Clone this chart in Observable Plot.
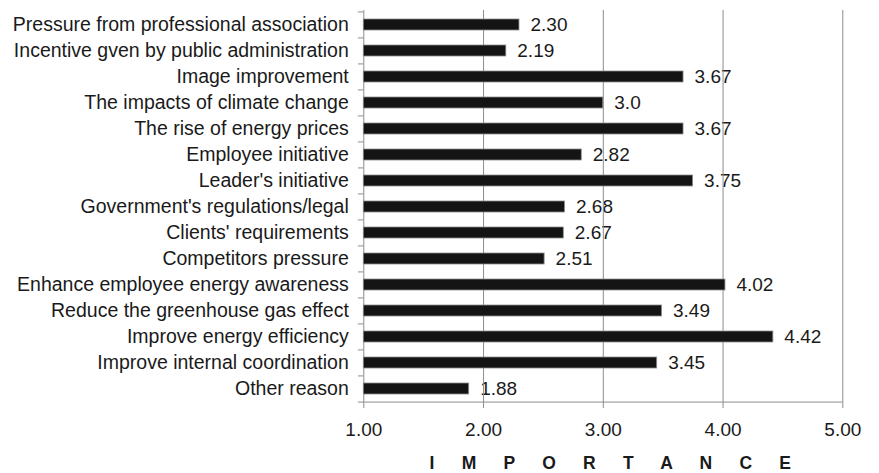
<!DOCTYPE html>
<html>
<head>
<meta charset="utf-8">
<script src="https://cdn.jsdelivr.net/npm/d3@7"></script>
<script src="https://cdn.jsdelivr.net/npm/@observablehq/plot@0.6"></script>
<style>
  html, body { margin: 0; padding: 0; background: #fff; }
  #chart svg { display: block; }
</style>
</head>
<body>
<div id="chart"></div>
<script>
// Reasons for energy-saving action, top to bottom
const reasons = [
  "Pressure from professional association",
  "Incentive gven by public administration",
  "Image improvement",
  "The impacts of climate change",
  "The rise of energy prices",
  "Employee initiative",
  "Leader's initiative",
  "Government's regulations/legal",
  "Clients' requirements",
  "Competitors pressure",
  "Enhance employee energy awareness",
  "Reduce the greenhouse gas effect",
  "Improve energy efficiency",
  "Improve internal coordination",
  "Other reason"
];

// Mean importance score for each reason
const scores = [2.30, 2.19, 3.67, 3.0, 3.67, 2.82, 3.75, 2.68, 2.67, 2.51, 4.02, 3.49, 4.42, 3.45, 1.88];

// Printed score labels
const scoreLabels = ["2.30", "2.19", "3.67", "3.0", "3.67", "2.82", "3.75", "2.68", "2.67", "2.51", "4.02", "3.49", "4.42", "3.45", "1.88"];

// Importance scale ticks
const xTicks = [1, 2, 3, 4, 5];

const axisTitle = "I M P O R T A N C E";

const rows = reasons.map((reason, i) => ({reason, score: scores[i], label: scoreLabels[i]}));

const W = 879, H = 473;
const mTop = 10, mBottom = 71, mLeft = 363.3, mRight = 36.7;
const step = (H - mTop - mBottom) / reasons.length;
const grey = "#8c8c8c";
const ink = "#1a1a1a";

const chart = Plot.plot({
  width: W,
  height: H,
  marginTop: mTop,
  marginBottom: mBottom,
  marginLeft: mLeft,
  marginRight: mRight,
  style: {
    fontFamily: "'Liberation Sans', Arial, Helvetica, sans-serif",
    fontSize: "19px",
    color: ink,
    background: "#fff"
  },
  x: {domain: [1, 5]},
  y: {domain: reasons, paddingInner: 0.58, paddingOuter: 0.29},
  marks: [
    // score labels at the end of each bar
    Plot.text(rows, {
      x: "score", y: "reason", text: "label",
      dx: 11, textAnchor: "start", fontSize: 19, fill: ink
    }),
    // vertical gridlines
    Plot.gridX(xTicks.slice(1), {stroke: grey, strokeOpacity: 1, strokeWidth: 1}),
    // category axis line
    Plot.ruleX([1], {stroke: grey, strokeWidth: 1}),
    // category separators on the left axis
    Plot.ruleY(reasons, {y: d => d, x1: 0.955, x2: 1, dy: -step / 2, stroke: grey}),
    // baseline (with the last separator)
    Plot.ruleY([reasons[reasons.length - 1]], {y: d => d, x1: 0.955, x2: 5, dy: step / 2, stroke: grey}),
    Plot.axisX(xTicks, {
      tickSize: 6, tickPadding: 14, tickFormat: d3.format(".2f"),
      stroke: grey, fill: ink, fontSize: 19, label: null
    }),
    Plot.axisY({tickSize: 0, tickPadding: 15, label: null, fill: ink, fontSize: 19.5}),
    // bars
    Plot.barX(rows, {
      x1: 1, x2: "score", y: "reason",
      fill: "#141414", stroke: grey, strokeWidth: 0.8
    }),
    // axis title
    Plot.text([axisTitle], {
      frameAnchor: "bottom", lineAnchor: "middle", textAnchor: "middle",
      dy: 60.5, dx: 12.6, fontWeight: "bold", fontSize: 17.5, fill: ink
    })
  ]
});

d3.select(chart).selectAll("text")
  .filter(function () { return this.textContent === axisTitle; })
  .style("letter-spacing", "11.2px");

document.getElementById("chart").appendChild(chart);
</script>
</body>
</html>
